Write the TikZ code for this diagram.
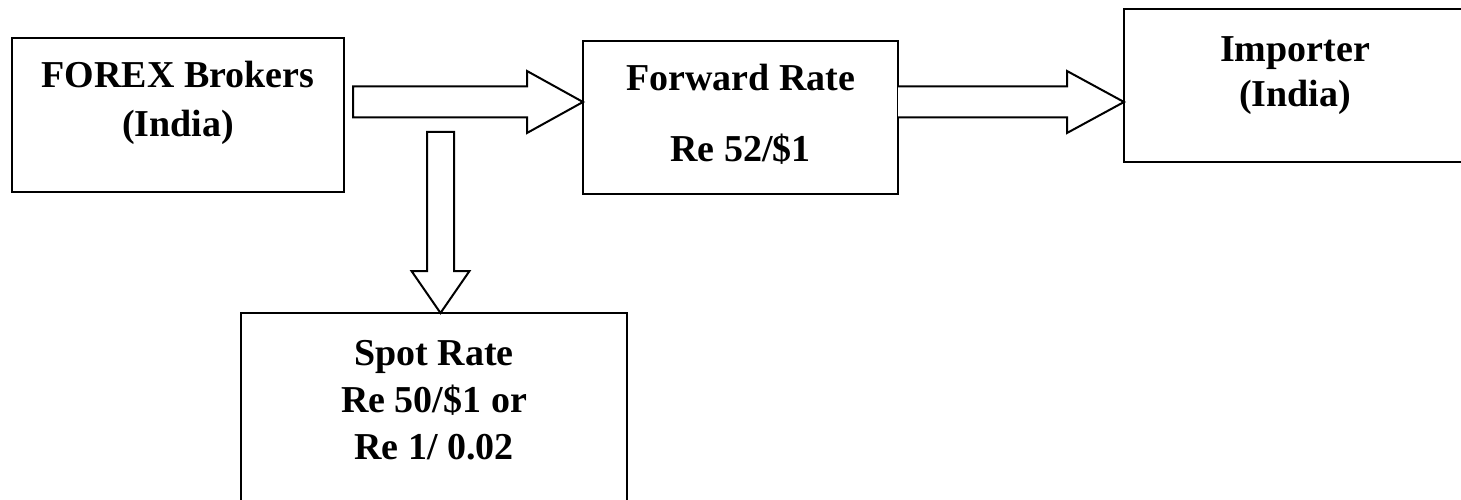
\documentclass[tikz,border=0pt]{standalone}
\usepackage{fontspec}
\setmainfont{Liberation Serif}
\usetikzlibrary{calc}
\begin{document}
\begin{tikzpicture}[x=1pt,y=-1pt,
  box/.style={draw=black,line width=2pt,fill=white,inner sep=0pt,outer sep=0pt},
  lbl/.style={anchor=base,inner sep=0pt,font=\fontsize{38}{40}\selectfont\bfseries},
  blockarrow/.style={draw=black,line width=2pt,fill=white,line join=miter}]
  \useasboundingbox (0,0) rectangle (1461,500);
  \clip (0,0) rectangle (1461,500);
  \fill[white] (0,0) rectangle (1461,500);

  % boxes
  \node[box,minimum width=332pt,minimum height=154pt] (fx) at (178,115) {};
  \node[box,minimum width=315pt,minimum height=153pt] (fr) at (740.5,117.5) {};
  \node[box,minimum width=340pt,minimum height=153pt] (im) at (1294,85.5) {};
  \node[box,minimum width=386pt,minimum height=207pt] (sp) at (434,416.5) {};

  % labels
  \node[lbl] (fx1) at (178,88) {FOREX Brokers};
  \node[lbl] (fx2) at (178,137) {(India)};
  \node[lbl] (fr1) at (740.5,91) {Forward Rate};
  \node[lbl] (fr2) at (740.5,161) {Re 52/\$1};
  \node[lbl] (im1) at (1295,62) {Importer};
  \node[lbl] (im2) at (1295,107) {(India)};
  \node[lbl] (sp1) at (434,365) {Spot Rate};
  \node[lbl] (sp2) at (434,412) {Re 50/\$1 or};
  \node[lbl] (sp3) at (434,459) {Re 1/ 0.02};

  % arrow ends
  \coordinate (a1s) at ($(fx.east |- 0,102)+(9,0)$);
  \coordinate (a1t) at (fr.west |- 0,102);
  \coordinate (a2s) at (fr.east |- 0,102);
  \coordinate (a2t) at (im.west |- 0,102);
  \coordinate (a3s) at (440.5,132);
  \coordinate (a3t) at (sp.north -| a3s);

  % block arrows
  \draw[blockarrow] ($(a1s)+(0,-15.5)$) -- ($(a1t)+(-56,-15.5)$) -- ($(a1t)+(-56,-31)$)
    -- (a1t) -- ($(a1t)+(-56,31)$) -- ($(a1t)+(-56,15.5)$) -- ($(a1s)+(0,15.5)$) -- cycle;
  \draw[blockarrow] ($(a2s)+(0,-15.5)$) -- ($(a2t)+(-57,-15.5)$) -- ($(a2t)+(-57,-31)$)
    -- (a2t) -- ($(a2t)+(-57,31)$) -- ($(a2t)+(-57,15.5)$) -- ($(a2s)+(0,15.5)$);
  \draw[blockarrow] ($(a3s)+(-13.5,0)$) -- ($(a3t)+(-13.5,-42)$) -- ($(a3t)+(-29,-42)$)
    -- (a3t) -- ($(a3t)+(29,-42)$) -- ($(a3t)+(13.5,-42)$) -- ($(a3s)+(13.5,0)$) -- cycle;
\end{tikzpicture}
\end{document}
